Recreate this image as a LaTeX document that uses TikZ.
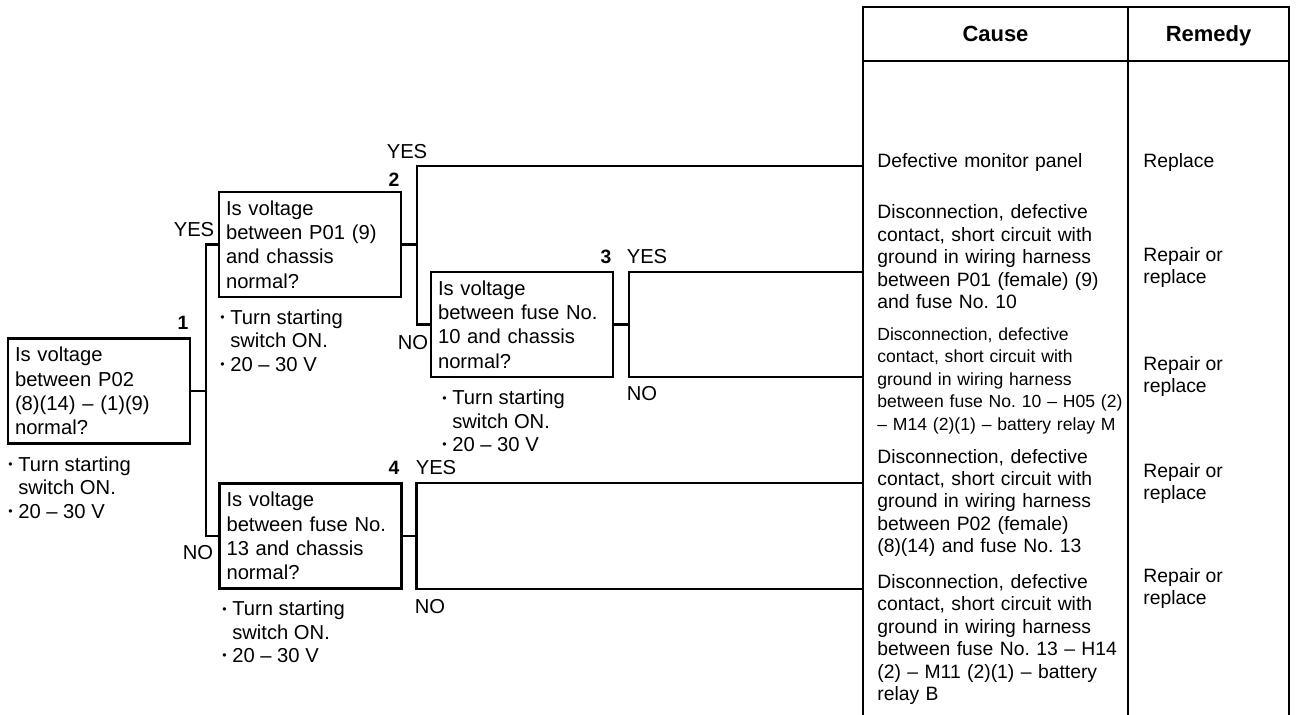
\documentclass[tikz,border=0pt]{standalone}
\usepackage{fontspec}
\setmainfont{Liberation Sans}
\usetikzlibrary{positioning,calc}
\frenchspacing
\tikzset{
  fc/question/.style={draw, line width=1.3pt, minimum width=3.64cm, minimum height=2.1cm, text width=3.36cm, inner xsep=0.14cm, align=left, font=\fontsize{11.5}{13.8}\selectfont},
  fc/note/.style={anchor=west, inner sep=0pt, align=left, font=\fontsize{11.5}{13.3}\selectfont},
  fc/num/.style={inner sep=0pt, font=\bfseries\fontsize{11}{13}\selectfont},
  fc/ans/.style={inner sep=0pt, font=\fontsize{11.5}{13.8}\selectfont},
  fc/line/.style={line width=1.3pt},
  tb/line/.style={line width=1.3pt},
  tb/head/.style={anchor=base, inner sep=0pt, font=\bfseries\fontsize{12.5}{15}\selectfont},
  tb/cause/.style={anchor=west, inner sep=0pt, text width=5cm, align=left, font=\fontsize{11}{12.8}\selectfont},
  tb/remedy/.style={anchor=west, inner sep=0pt, align=left, font=\fontsize{11}{12.8}\selectfont}
}
\newcommand{\dotmark}{\raisebox{1.6pt}{\fontsize{7}{7}\selectfont\textbullet}}
\newcommand{\notetext}{\dotmark\ Turn starting\\\hphantom{\dotmark\ }switch ON.\\\dotmark\ 20 – 30 V}

\begin{document}
\begin{tikzpicture}[x=0.02cm,y=-0.02cm]
\useasboundingbox (0,0) rectangle (1296,715);

% question boxes
\node[fc/question] (b1) at (99,391) {Is voltage\\between P02\\(8)(14) – (1)(9)\\normal?};
\node[fc/question] (b2) at (310,244.5) {Is voltage\\between P01 (9)\\and chassis\\normal?};
\node[fc/question] (b3) at (522,324.5) {Is voltage\\between fuse No.\\10 and chassis\\normal?};
\node[fc/question] (b4) at (310.5,536) {Is voltage\\between fuse No.\\13 and chassis\\normal?};

\node[fc/note] (m1) at (8,487.5) {\notetext};
\node[fc/note] (m2) at (220,340.5) {\notetext};
\node[fc/note] (m3) at (442,421) {\notetext};
\node[fc/note] (m4) at (222,632) {\notetext};

\node[fc/num] (n1) at (183,323) {1};
\node[fc/num] (n2) at (394,180) {2};
\node[fc/num] (n3) at (606,257) {3};
\node[fc/num] (n4) at (394,468) {4};

\node[fc/ans] (y1) at (194,230) {YES};
\node[fc/ans] (y2) at (407,152) {YES};
\node[fc/ans] (y3) at (647,257) {YES};
\node[fc/ans] (y4) at (436,468) {YES};
\node[fc/ans] (o1) at (413,343) {NO};
\node[fc/ans] (o2) at (642,394) {NO};
\node[fc/ans] (o3) at (198,553) {NO};
\node[fc/ans] (o4) at (430,607) {NO};

% table
\draw[tb/line] (863,715) -- (863,7) -- (1289,7) -- (1289,715);
\draw[tb/line] (863,61) -- (1289,61);
\draw[tb/line] (1128,7) -- (1128,715);
\node[tb/head] (hc) at (995.5,42) {Cause};
\node[tb/head] (hr) at (1208.5,42) {Remedy};

\coordinate (c1) at (863,166);
\coordinate (c2) at (863,272);
\coordinate (c3) at (863,377);
\coordinate (c4) at (863,483);
\coordinate (c5) at (863,589);

\node[tb/cause] (k1) at (877,163) {Defective monitor panel};
\node[tb/cause] (k2) at (877,257) {Disconnection, defective\\contact, short circuit with\\ground in wiring harness\\between P01 (female) (9)\\and fuse No. 10};
\node[tb/cause, font=\fontsize{10}{12.8}\selectfont] (k3) at (877,380.5) {Disconnection, defective\\contact, short circuit with\\ground in wiring harness\\between fuse No. 10 – H05 (2)\\– M14 (2)(1) – battery relay M};
\node[tb/cause] (k4) at (877,503) {Disconnection, defective\\contact, short circuit with\\ground in wiring harness\\between P02 (female)\\(8)(14) and fuse No. 13};
\node[tb/cause] (k5) at (877,639.5) {Disconnection, defective\\contact, short circuit with\\ground in wiring harness\\between fuse No. 13 – H14\\(2) – M11 (2)(1) – battery\\relay B};

\node[tb/remedy] (r1) at (1143,163) {Replace};
\node[tb/remedy] (r2) at (1143,267.5) {Repair or\\replace};
\node[tb/remedy] (r3) at (1143,376.5) {Repair or\\replace};
\node[tb/remedy] (r4) at (1143,483.5) {Repair or\\replace};
\node[tb/remedy] (r5) at (1143,588.5) {Repair or\\replace};

% connectors
\coordinate (j1) at ($(b1.east)+(15,0)$);
\coordinate (j2) at ($(b2.east)+(15,0)$);
\coordinate (j3) at ($(b3.east)+(15,0)$);
\coordinate (j4) at ($(b4.east)+(14,0)$);
\draw[fc/line] (b1.east) -- (j1);
\draw[fc/line] (b2.west) -| (j1) |- (b4.west);
\draw[fc/line] (b2.east) -- (j2);
\draw[fc/line] (c1) -| (j2) |- (b3.west);
\draw[fc/line] (b3.east) -- (j3);
\draw[fc/line] (c2) -| (j3) |- (c3);
\draw[fc/line] (b4.east) -- (j4);
\draw[fc/line] (c4) -| (j4) |- (c5);

\end{tikzpicture}
\end{document}
